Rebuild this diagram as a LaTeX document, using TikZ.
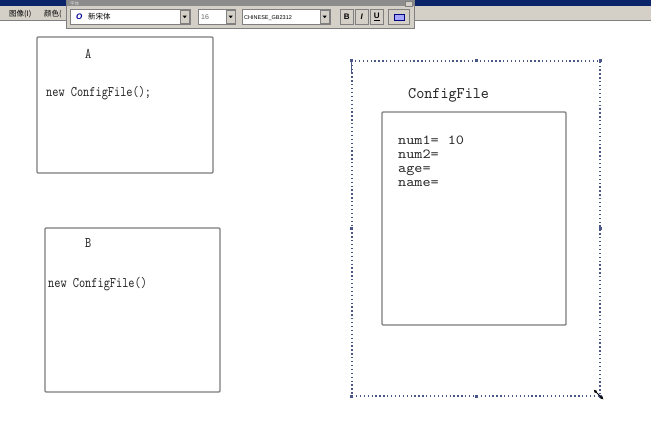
\documentclass[tikz,border=0pt]{standalone}
\usepackage{fontspec}
\usetikzlibrary{arrows.meta}
\newfontfamily\codefont{lmmono10-regular.otf}[FakeStretch=0.8]
\newfontfamily\cfgfont{lmmono10-regular.otf}[FakeStretch=0.95]
\newfontfamily\fieldfont{lmmono10-regular.otf}[FakeStretch=1.12]
\newfontfamily\cjkfont{Noto Sans CJK SC}
\newfontfamily\uifont{Liberation Sans}
\definecolor{navy}{HTML}{0A246A}
\definecolor{uigray}{HTML}{D4D0C8}
\definecolor{uidark}{HTML}{808080}
\definecolor{boxgray}{HTML}{7C7C7C}
\definecolor{selblue}{HTML}{4A5788}
\definecolor{textc}{HTML}{262626}
\begin{document}
\begin{tikzpicture}[x=1pt,y=-1pt,
  classbox/.style={draw=boxgray, line width=1.4pt, rounded corners=1pt, inner sep=0pt},
  selbox/.style={draw=selblue, line width=1.1pt, dash pattern=on 1.3pt off 2.6pt, inner sep=0pt},
  handle/.style={fill=selblue, minimum size=3pt, inner sep=0pt},
  smalltext/.style={anchor=base west, inner sep=0pt, text=textc, font=\codefont\fontsize{14.7}{16}\selectfont},
  bigtext/.style={anchor=base west, inner sep=0pt, text=textc, font=\cfgfont\fontsize{16.2}{14}\selectfont},
  fieldtext/.style={anchor=base west, inner sep=0pt, text=textc, font=\fieldfont\fontsize{13.8}{14}\selectfont},
  combo/.style={draw=uidark, fill=white, anchor=north west, inner sep=0pt, minimum height=15pt},
  ddbtn/.style={draw=uidark, fill=uigray, anchor=north west, inner sep=0pt, minimum width=9pt, minimum height=13pt},
  tbtn/.style={draw=uidark, fill=uigray, anchor=north west, inner sep=0pt, minimum width=13pt, minimum height=15pt, font=\uifont\fontsize{8}{8}\selectfont},
  uitext/.style={anchor=base west, inner sep=0pt, font=\uifont\fontsize{7}{8}\selectfont},
]
\useasboundingbox (0,0) rectangle (651,421);
\fill[white] (0,0) rectangle (651,421);

% ---- application chrome ----
\fill[navy] (0,0) rectangle (651,6);
\fill[uigray] (0,6) rectangle (651,20);
\draw[uidark, line width=1pt] (0,20.5) -- (651,20.5);
\node[anchor=base west, inner sep=0pt, font=\cjkfont\fontsize{7.5}{8}\selectfont] (menuimg) at (9,16.5) {图像(I)};
\node[anchor=base west, inner sep=0pt, font=\cjkfont\fontsize{7.5}{8}\selectfont] (menucol) at (44,16.5) {颜色(};

% ---- font toolbar window ----
\node[draw=uidark, fill=uigray, anchor=north west, inner sep=0pt, minimum width=348pt, minimum height=28pt] (tbwin) at (66,0) {};
\fill[black!45] (66.5,0) rectangle (413.5,6);
\node[anchor=base west, inner sep=0pt, text=white!85!black, font=\cjkfont\fontsize{4.5}{5}\selectfont] (tbtitle) at (70,5) {字体};
\node[draw=uidark, fill=uigray, anchor=north west, inner sep=0pt, minimum width=7pt, minimum height=5pt] (tbclose) at (405,0.5) {};

\node[combo, minimum width=120pt] (fontbox) at (70,9) {};
\node[ddbtn] (fontdd) at (180,10) {};
\fill[black] ([xshift=-2pt,yshift=1pt]fontdd.center) -- ([xshift=2pt,yshift=1pt]fontdd.center) -- ([yshift=-1.5pt]fontdd.center) -- cycle;
\node[uitext, text=blue!60!black, font=\uifont\itshape\bfseries\fontsize{8}{8}\selectfont] (fonticon) at (76,19.5) {O};
\node[anchor=base west, inner sep=0pt, font=\cjkfont\fontsize{7.5}{8}\selectfont] (fontname) at (88,19.5) {新宋体};

\node[combo, minimum width=37pt] (sizebox) at (198,9) {};
\node[ddbtn] (sizedd) at (226,10) {};
\fill[black] ([xshift=-2pt,yshift=1pt]sizedd.center) -- ([xshift=2pt,yshift=1pt]sizedd.center) -- ([yshift=-1.5pt]sizedd.center) -- cycle;
\node[uitext, text=black!60] (sizetxt) at (201,19.5) {16};

\node[combo, minimum width=88pt] (charbox) at (242,9) {};
\node[ddbtn] (chardd) at (320,10) {};
\fill[black] ([xshift=-2pt,yshift=1pt]chardd.center) -- ([xshift=2pt,yshift=1pt]chardd.center) -- ([yshift=-1.5pt]chardd.center) -- cycle;
\node[uitext, font=\uifont\fontsize{5.5}{6}\selectfont] (chartxt) at (244,19) {CHINESE\_GB2312};

\node[tbtn] (btnb) at (340,9) {\bfseries B};
\node[tbtn] (btni) at (355,9) {\itshape\bfseries I};
\node[tbtn] (btnu) at (370,9) {\bfseries\underline{U}};
\node[tbtn, minimum width=21pt] (btnv) at (388,9) {};
\fill[blue!35!white, draw=blue!50!black, line width=0.4pt] ([xshift=-5pt,yshift=-3pt]btnv.center) rectangle ([xshift=5pt,yshift=3pt]btnv.center);

% ---- class A ----
\node[classbox, minimum width=176pt, minimum height=136pt] (boxA) at (125,105) {};
\node[smalltext] (labA) at (85,58) {A};
\node[smalltext] (codeA) at (46,96) {new ConfigFile();};

% ---- class B ----
\node[classbox, minimum width=175pt, minimum height=164pt] (boxB) at (132.5,310) {};
\node[smalltext] (labB) at (85,247) {B};
\node[smalltext] (codeB) at (48,287) {new ConfigFile()};

% ---- ConfigFile object (selected) ----
\node[selbox, minimum width=248pt, minimum height=335pt] (sel) at (476,228.5) {};
\foreach \n/\p in {h1/sel.north west, h2/sel.north, h3/sel.north east, h4/sel.west, h5/sel.east, h6/sel.south west, h7/sel.south, h8/sel.south east}
  \node[handle] (\n) at (\p) {};
\draw[selblue, line width=1.6pt] ([yshift=-1pt]sel.north west) -- ([yshift=-14pt]sel.north west);
\node[bigtext] (cfgtitle) at (408,98) {ConfigFile};
\node[classbox, minimum width=184pt, minimum height=213pt] (inner) at (474,218.5) {};
\node[fieldtext] (fields) at (398,144.5) {\begin{tabular}[t]{@{}l@{}}num1=\hspace{9pt}10\\ num2=\\ age=\\ name=\end{tabular}};
\coordinate (curA) at ([xshift=-7pt,yshift=7pt]sel.south east);
\coordinate (curB) at ([xshift=3pt,yshift=-3pt]sel.south east);
\draw[{Latex[length=3.5pt,width=3.5pt]}-{Latex[length=3.5pt,width=3.5pt]}, line width=1pt, black] (curA) -- (curB);
\end{tikzpicture}
\end{document}
